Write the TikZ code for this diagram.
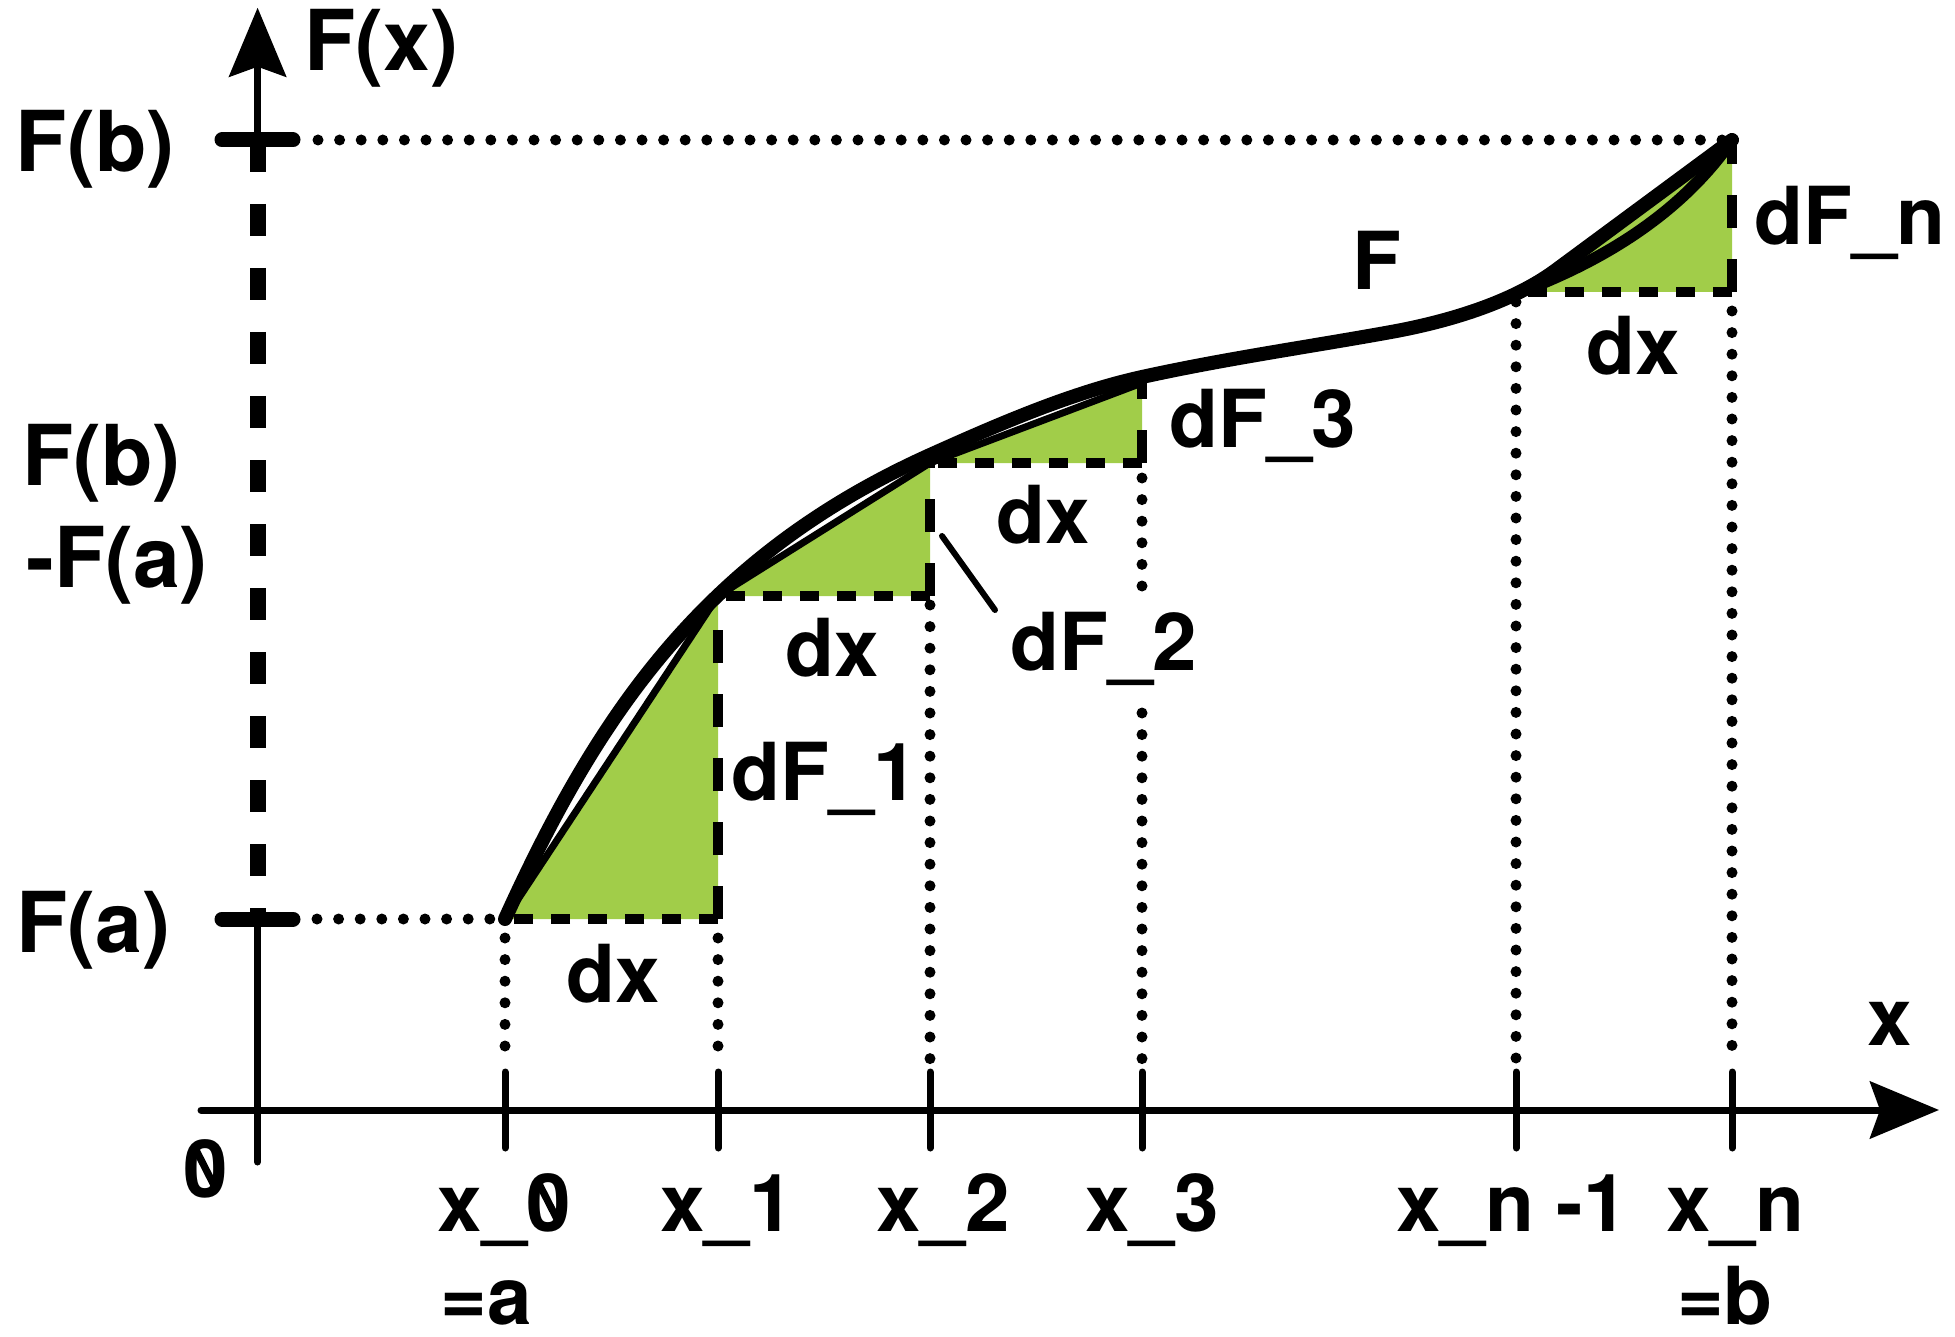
\documentclass[tikz,border=0pt]{standalone}
\usepackage{fontspec}
\setmainfont{TeX Gyre Heros}
\usepackage{graphicx}
\usetikzlibrary{arrows.meta}
\definecolor{leaf}{RGB}{161,205,73}
\newcommand\zs{\makebox[0pt][l]{0}\makebox[0.556em][c]{\raisebox{0.31em}{\rotatebox[origin=c]{-63}{\rule{0.56em}{0.09em}}}}}
\begin{document}
\begin{tikzpicture}[x=1pt,y=-1pt,
  lbl/.style={font=\fontsize{80}{96}\selectfont\bfseries, inner sep=0pt, anchor=base},
  plbl/.style={lbl, font=\fontsize{84}{96}\selectfont\bfseries},
  dots/.style={line width=11pt, line cap=round, dash pattern=on 0pt off 21.6pt},
  hdash/.style={line width=10pt, dash pattern=on 19pt off 18pt},
  vdash/.style={line width=10pt, dash pattern=on 33pt off 31pt},
  ydash/.style={line width=16pt, dash pattern=on 32pt off 32pt},
  chord/.style={line width=7pt, line cap=round},
  curve/.style={line width=14pt, line cap=round, line join=round},
  axis/.style={line width=7pt, line cap=round},
  tick/.style={line width=7pt, line cap=round},
  bigtick/.style={line width=15pt, line cap=round},
  tip/.style={-{Stealth[length=69pt,width=57pt,inset=10pt]}},
  leader/.style={line width=6pt, line cap=round}
]
\useasboundingbox (0,0) rectangle (1955,1337);
% vertices on the curve
\coordinate (P0) at (505,919);
\coordinate (P1) at (718,596);
\coordinate (P2) at (930,463);
\coordinate (P3) at (1142,383);
\coordinate (Pm) at (1520,292);
\coordinate (Pn) at (1732,140);
% triangle corners
\coordinate (C1) at (718,919);
\coordinate (C2) at (930,596);
\coordinate (C3) at (1142,463);
\coordinate (Cn) at (1732,292);
% green triangles
\fill[leaf] (P0) -- (C1) -- (P1) -- cycle;
\fill[leaf] (P1) -- (C2) -- (P2) -- cycle;
\fill[leaf] (P2) -- (C3) -- (P3) -- cycle;
\fill[leaf] (Pm) -- (Cn) -- (Pn) -- cycle;
% dashed legs
\draw[hdash] (C1) -- (P0);
\draw[vdash] (C1) -- (P1);
\draw[hdash] (C2) -- (P1);
\draw[vdash] (C2) -- (P2);
\draw[hdash] (C3) -- (P2);
\draw[vdash] (C3) -- (P3);
\draw[hdash] (Cn) -- (Pm);
\draw[vdash] (Cn) -- (Pn);
% chords
\draw[chord] (P0) -- (P1);
\draw[chord] (P1) -- (P2);
\draw[chord] (P2) -- (P3);
\draw[line width=12pt, line cap=round] (Pm) .. controls (1600,262) and (1680,215) .. (Pn);
% the curve F
\coordinate (Q1) at (930,455);
\coordinate (Q2) at (1142,377);
\coordinate (Q3) at (1391,332);
\coordinate (Q4) at (1556,270);
\draw[curve] (P0) .. controls (595,721) and (700,558.5) .. (Q1)
  .. controls (1000,423.5) and (1072,392.4) .. (Q2)
  .. controls (1225,358.7) and (1308,347) .. (Q3)
  .. controls (1446,322) and (1511,303.3) .. (Q4)
  -- (Pn);
% dotted guides
\draw[dots] (318,140) -- (1725,140);
\draw[dots] (317,919) -- (497,919);
\draw[dots] (505,938) -- (505,1056);
\draw[dots] (718,938) -- (718,1056);
\draw[dots] (930,605) -- (930,1060);
\draw[dots] (1142,478) -- (1142,590);
\draw[dots] (1142,713) -- (1142,1060);
\draw[dots] (1516,302) -- (1516,1060);
\draw[dots] (1732,311) -- (1732,1060);
% axes
\coordinate (xs) at (201,1110);
\coordinate (xe) at (1939,1110);
\coordinate (yb) at (257.6,1162);
\coordinate (ya) at (257.6,919);
\coordinate (yc) at (257.6,140);
\coordinate (ye) at (257.6,7.7);
\draw[axis, tip] (xs) -- (xe);
\draw[axis] (yb) -- (ya);
\draw[ydash] (yc) -- (ya);
\draw[axis, tip] (yc) -- (ye);
\foreach \xx in {505,718,930,1142,1516,1732} \draw[tick] (\xx,1072) -- (\xx,1148);
\draw[bigtick] (222,140) -- (293,140);
\draw[bigtick] (222,919) -- (293,919);
% leader for dF_2
\coordinate (L1) at (942,536);
\coordinate (L2) at (995,610);
\draw[leader] (L1) -- (L2);
% labels
\node[plbl] (Fx) at (381.5,70.8) {F(x)};
\node[plbl] (Fb) at (95,171.5) {F(b)};
\node[plbl] (Fb2) at (101.5,485.3) {F(b)};
\node[plbl] (mFa) at (117,587) {-F(a)};
\node[plbl] (Fa) at (93,952.5) {F(a)};
\node[lbl] (zero) at (205.5,1197) {\zs};
\node[lbl] (x0) at (504.5,1231.7) {x\_\zs};
\node[lbl] (eqa) at (486.5,1324) {=a};
\node[lbl] (x1) at (727,1231.7) {x\_1};
\node[lbl] (x2) at (943,1231.7) {x\_2};
\node[lbl] (x3) at (1152,1231.7) {x\_3};
\node[lbl] (xm) at (1512,1231.7) {x\_n -1};
\node[lbl] (xn) at (1735.4,1231.7) {x\_n};
\node[lbl] (eqb) at (1725,1324) {=b};
\node[lbl] (xlab) at (1890,1045) {x};
\node[lbl] (dx1) at (613.5,1002) {dx};
\node[lbl] (dF1) at (825,800) {dF\_1};
\node[lbl] (dx2) at (832.5,676) {dx};
\node[lbl] (dF2) at (1103.7,670) {dF\_2};
\node[lbl] (dx3) at (1043.3,543) {dx};
\node[lbl] (dF3) at (1263,448) {dF\_3};
\node[lbl] (Flab) at (1377,290) {F};
\node[lbl] (dFn) at (1850,245) {dF\_n};
\node[lbl] (dxn) at (1633,375) {dx};
\end{tikzpicture}
\end{document}
